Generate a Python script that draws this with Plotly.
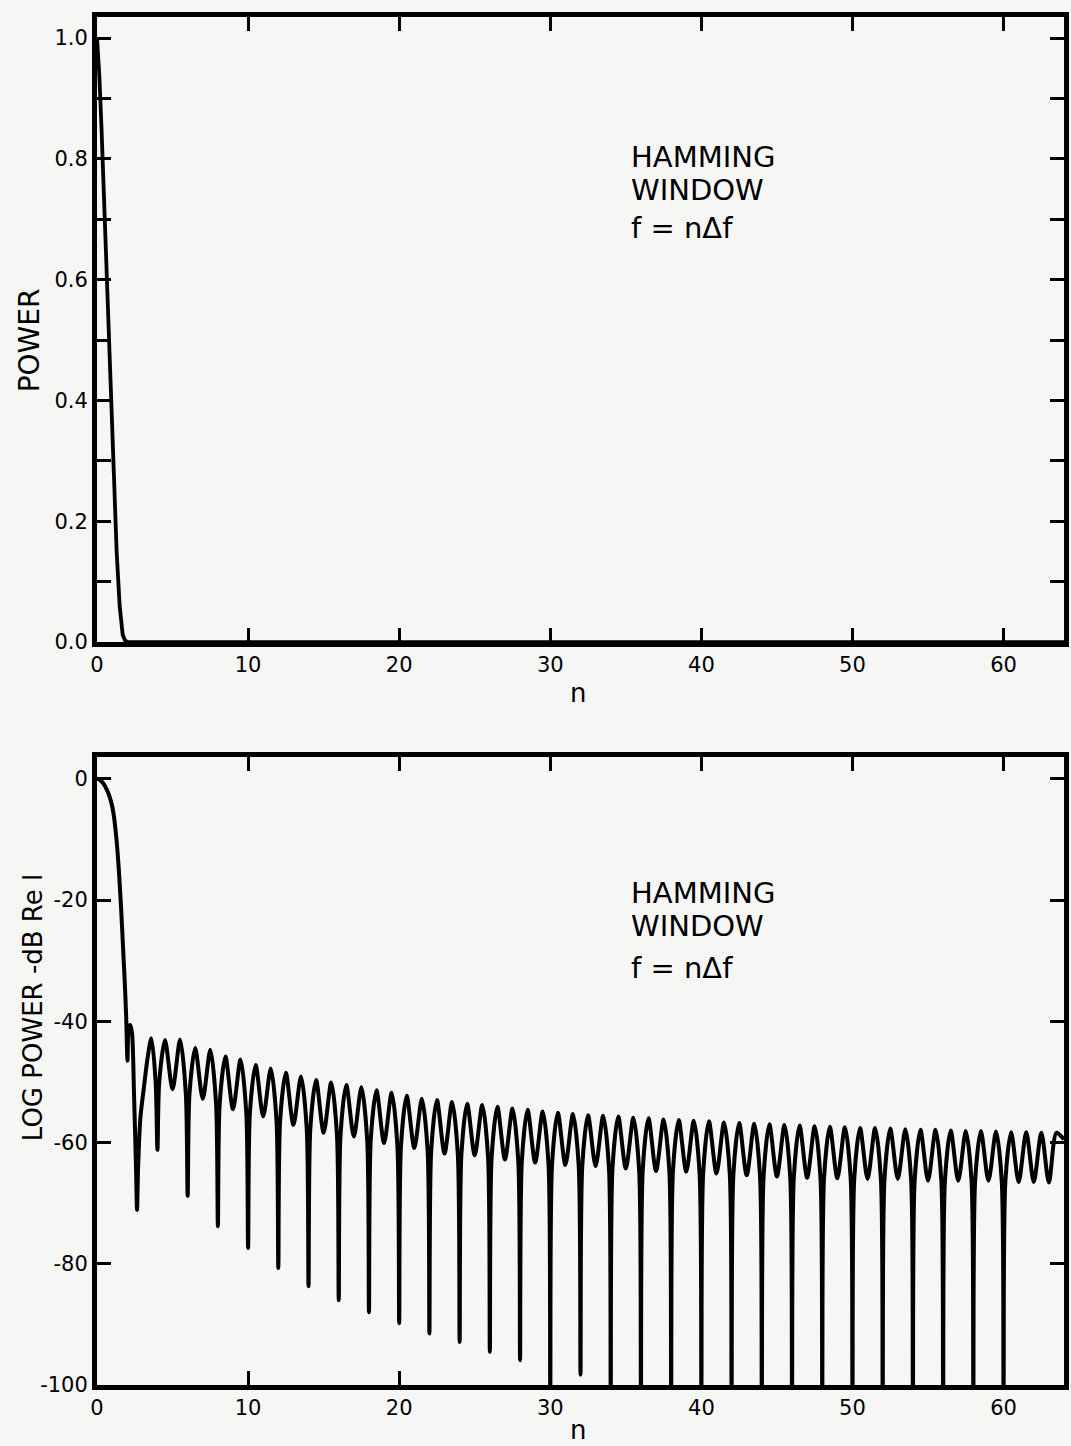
import plotly.graph_objects as go

# ---------------- data ----------------
# upper panel: linear power versus n
pow_n = [0.0, 0.15, 0.3, 0.45, 0.6, 0.8, 1.0, 1.15, 1.3, 1.5, 1.7, 1.85, 2.0, 64.0]
pow_v = [1.0, 0.94, 0.85, 0.75, 0.65, 0.51, 0.37, 0.26, 0.15, 0.06, 0.012, 0.003, 0.0, 0.0]

# lower panel: log power (dB) - main lobe and first irregular lobe
main_n = [0.0, 0.2, 0.4, 0.55, 0.75, 0.9, 1.02, 1.12, 1.27, 1.4, 1.5, 1.6, 1.71, 1.84,
          1.93, 2.02, 2.1, 2.2, 2.32, 2.45, 2.58, 2.65, 2.72, 2.87, 3.1, 3.35]
main_db = [0.0, -0.2, -0.7, -1.3, -2.4, -3.5, -4.7, -6.2, -9.5, -13.4, -17.2, -21.6, -27.1, -33.7,
           -39.2, -46.5, -41.0, -40.6, -42.0, -52.0, -64.0, -71.1, -64.0, -56.0, -51.0, -46.0]

# side-lobe peaks
peak_n = [3.6, 4.5, 5.5, 6.5, 7.5, 8.5, 9.5, 10.5, 11.5, 12.5, 13.5, 14.5, 15.5, 16.5,
          17.5, 18.5, 19.5, 20.5, 21.5, 22.5, 23.5, 24.5, 25.5, 26.5, 27.5, 28.5, 29.5,
          30.5, 31.5, 32.5, 33.5, 34.5, 35.5, 36.5, 37.5, 38.5, 39.5, 40.5, 41.5, 42.5,
          43.5, 44.5, 45.5, 46.5, 47.5, 48.5, 49.5, 50.5, 51.5, 52.5, 53.5, 54.5, 55.5,
          56.5, 57.5, 58.5, 59.5, 60.5, 61.5, 62.5, 63.5]
peak_db = [-42.8, -43.1, -43.0, -44.4, -44.7, -45.8, -46.3, -47.2, -47.8, -48.5, -49.1, -49.7,
           -50.1, -50.5, -50.9, -51.4, -51.8, -52.3, -52.8, -53.0, -53.3, -53.6, -53.8, -54.1,
           -54.4, -54.6, -54.9, -55.1, -55.3, -55.5, -55.6, -55.7, -55.9, -56.0, -56.2, -56.3,
           -56.4, -56.5, -56.7, -56.8, -56.9, -57.0, -57.1, -57.2, -57.3, -57.4, -57.5, -57.6,
           -57.6, -57.7, -57.8, -57.9, -57.9, -58.0, -58.1, -58.1, -58.2, -58.3, -58.3, -58.4,
           -58.4]

# shallow dips between lobes
dip_n = [5, 7, 9, 11, 13, 15, 17, 19, 21, 23, 25, 27, 29, 31, 33, 35, 37, 39, 41, 43,
         45, 47, 49, 51, 53, 55, 57, 59, 61, 62, 63, 64]
dip_db = [-51.2, -52.8, -54.5, -55.7, -57.1, -58.4, -59.0, -60.1, -60.9, -61.8, -62.1, -62.8,
          -63.3, -63.7, -63.9, -64.3, -64.7, -64.8, -65.1, -65.4, -65.6, -65.8, -65.9, -66.0,
          -66.0, -66.3, -66.3, -66.3, -66.5, -66.5, -66.6, -59.5]

# deep nulls (needles) and the level where each needle leaves the lobes
null_n = [4, 6, 8, 10, 12, 14, 16, 18, 20, 22, 24, 26, 28, 30, 32, 34, 36, 38, 40, 42,
          44, 46, 48, 50, 52, 54, 56, 58, 60]
null_db = [-61.2, -68.8, -73.8, -77.4, -80.7, -83.7, -86.0, -88.0, -89.8, -91.5, -92.9, -94.5,
           -95.9, -101.0, -98.3, -101.0, -101.0, -101.0, -101.0, -101.0, -101.0, -101.0, -101.0,
           -101.0, -101.0, -101.0, -101.0, -101.0, -101.0]
null_edge_db = [-50.0, -52.0, -53.6, -55.1, -56.4, -57.7, -58.7, -59.5, -60.5, -61.3, -61.9,
                -62.4, -63.0, -63.5, -63.8, -64.1, -64.5, -64.7, -65.0, -65.2, -65.5, -65.7,
                -65.8, -65.9, -66.0, -66.1, -66.3, -66.3, -66.4]
NEEDLE_HALF_WIDTH = 0.12

x_ticks = [0, 10, 20, 30, 40, 50, 60]
pow_ticks = [0.0, 0.1, 0.2, 0.3, 0.4, 0.5, 0.6, 0.7, 0.8, 0.9, 1.0]
pow_labels = ["0.0", "", "0.2", "", "0.4", "", "0.6", "", "0.8", "", "1.0"]
db_ticks = [0, -20, -40, -60, -80, -100]
db_labels = ["0", "-20", "-40", "-60", "-80", "-100"]

# ---------------- assemble lower curve ----------------
pts = list(zip(main_n, main_db)) + list(zip(peak_n, peak_db)) + list(zip(dip_n, dip_db))
pts += list(zip(null_n, null_db))
pts += [(k - NEEDLE_HALF_WIDTH, e) for k, e in zip(null_n, null_edge_db)]
pts += [(k + NEEDLE_HALF_WIDTH, e) for k, e in zip(null_n, null_edge_db)]
pts.sort(key=lambda p: p[0])
log_n = [p[0] for p in pts]
log_db = [p[1] for p in pts]

FONT = "DejaVu Sans"
BG = "#f6f6f4"

fig = go.Figure()
fig.add_trace(go.Scatter(x=pow_n, y=pow_v, mode="lines", xaxis="x", yaxis="y",
                         line=dict(color="black", width=3.8),
                         showlegend=False, hoverinfo="skip"))
fig.add_trace(go.Scatter(x=log_n, y=log_db, mode="lines", xaxis="x2", yaxis="y2",
                         line=dict(color="black", width=4.0, shape="spline", smoothing=0.8),
                         showlegend=False, hoverinfo="skip"))

axis_common = dict(showline=True, linewidth=5, linecolor="black", mirror="ticks",
                   ticks="inside", ticklen=14, tickwidth=3, tickcolor="black",
                   showgrid=False, zeroline=False,
                   tickfont=dict(family=FONT, size=21, color="black"))

fig.update_layout(
    width=1071, height=1446,
    margin=dict(l=97, r=2, t=17, b=61),
    paper_bgcolor=BG, plot_bgcolor=BG,
    font=dict(family=FONT, color="black"),
    xaxis=dict(domain=[0, 1], anchor="y", range=[0, 64], tickvals=x_ticks, **axis_common),
    yaxis=dict(domain=[0.5431, 1], anchor="x", range=[0, 1.035], tickvals=pow_ticks,
               ticktext=pow_labels, **axis_common),
    xaxis2=dict(domain=[0, 1], anchor="y2", range=[0, 64], tickvals=x_ticks, **axis_common),
    yaxis2=dict(domain=[0, 0.4591], anchor="x2", range=[-100, 3.6], tickvals=db_ticks,
                ticktext=db_labels, **axis_common),
)

ann_font = dict(family=FONT, size=29, color="black")
annotations = [
    dict(text="n", x=0.497, y=0.5058, xref="paper", yref="paper", showarrow=False,
         font=dict(family=FONT, size=26, color="black"), xanchor="center", yanchor="middle"),
    dict(text="n", x=0.497, y=-0.0329, xref="paper", yref="paper", showarrow=False,
         font=dict(family=FONT, size=26, color="black"), xanchor="center", yanchor="middle"),
    dict(text="POWER", x=-0.0689, y=0.7639, xref="paper", yref="paper", showarrow=False,
         textangle=-90, font=dict(family=FONT, size=28, color="black"),
         xanchor="center", yanchor="middle"),
    dict(text="LOG POWER -dB Re l", x=-0.066, y=0.2756, xref="paper", yref="paper",
         showarrow=False, textangle=-90, font=dict(family=FONT, size=26, color="black"),
         xanchor="center", yanchor="middle"),
]
for ys in ([0.8977, 0.8735, 0.8458], [0.3596, 0.3355, 0.3048]):
    for txt, yy in zip(["HAMMING", "WINDOW", "f = nΔf"], ys):
        annotations.append(dict(text=txt, x=0.5504, y=yy, xref="paper", yref="paper",
                                showarrow=False, font=ann_font, xanchor="left",
                                yanchor="middle"))
fig.update_layout(annotations=annotations)

fig.write_html("out.html", config={"displayModeBar": False},
               post_script="document.body.style.margin='0';document.body.style.overflow='hidden';")
